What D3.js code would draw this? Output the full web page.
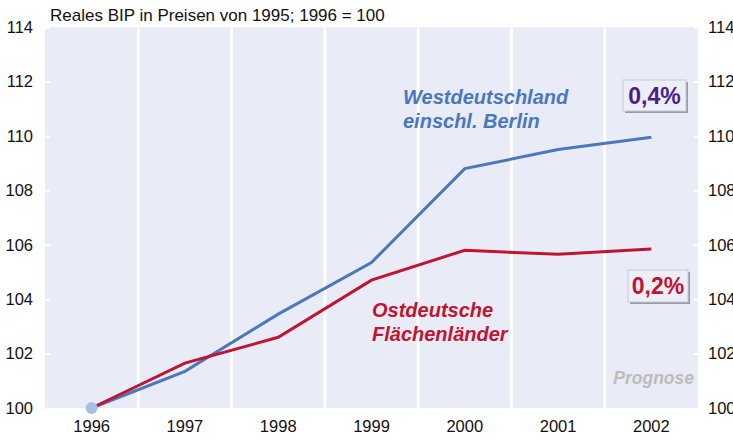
<!DOCTYPE html>
<html><head><meta charset="utf-8">
<script src="https://cdn.jsdelivr.net/npm/d3@7"></script>
<style>body{margin:0;background:#fff}svg{display:block}text{font-family:Arial,"Liberation Sans",sans-serif}</style>
</head><body>
<svg id="c" width="733" height="443"></svg>
<script>
const years = ["1996","1997","1998","1999","2000","2001","2002"];
const west = [100, 101.35, 103.45, 105.35, 108.8, 109.5, 109.95];
const east = [100, 101.65, 102.6, 104.7, 105.8, 105.65, 105.85];
const yTicks = [100, 102, 104, 106, 108, 110, 112, 114];
const title = "Reales BIP in Preisen von 1995; 1996 = 100";
const westLabel = ["Westdeutschland", "einschl. Berlin"];
const eastLabel = ["Ostdeutsche", "Flächenländer"];
const westRate = "0,4%";
const eastRate = "0,2%";
const progLabel = "Prognose";

const svg = d3.select("#c");
const L = 45, R = 698, T = 27.2, B = 408;
const x = d3.scaleBand().domain(years).range([L, R]).padding(0);
const y = d3.scaleLinear().domain([100, 114]).range([B, T]);
const cx = d => x(d) + x.bandwidth() / 2;

svg.append("rect").attr("x", L).attr("y", T).attr("width", R - L).attr("height", B - T).attr("fill", "#e9ebf6");

svg.selectAll(".sep").data(years.slice(1)).join("line")
  .attr("x1", d => x(d)).attr("x2", d => x(d)).attr("y1", T).attr("y2", B)
  .attr("stroke", "#fff").attr("stroke-width", 3);

const fs = 16.5;
const la = svg.append("g").attr("transform", `translate(${L},0)`)
  .call(d3.axisLeft(y).tickValues(yTicks).tickSize(-5).tickPadding(12));
la.select(".domain").remove();
la.selectAll(".tick line").attr("stroke", "#fff").attr("stroke-width", 2);
la.selectAll(".tick text").attr("font-size", fs).attr("fill", "#111");

const ra = svg.append("g").attr("transform", `translate(${R},0)`)
  .call(d3.axisRight(y).tickValues(yTicks).tickSize(-4).tickPadding(10));
ra.select(".domain").remove();
ra.selectAll(".tick line").attr("stroke", "#fff").attr("stroke-width", 2);
ra.selectAll(".tick text").attr("font-size", fs).attr("fill", "#111");

const xa = svg.append("g").attr("transform", `translate(0,${B})`)
  .call(d3.axisBottom(x).tickSize(0).tickPadding(12));
xa.select(".domain").remove();
xa.selectAll(".tick text").attr("font-size", fs).attr("fill", "#111");

svg.append("text").attr("x", 50).attr("y", 21).attr("font-size", 17).attr("fill", "#111").text(title);

const line = d3.line().x((d, i) => cx(years[i])).y(d => y(d));
svg.append("path").datum(west).attr("d", line).attr("fill", "none").attr("stroke", "#4a78bf").attr("stroke-width", 3);
svg.append("path").datum(east).attr("d", line).attr("fill", "none").attr("stroke", "#c01430").attr("stroke-width", 3);

svg.append("circle").attr("cx", cx(years[0])).attr("cy", y(west[0])).attr("r", 6).attr("fill", "#aac0e2");

function label(lines, xx, yy, col) {
  const t = svg.append("text").attr("x", xx).attr("y", yy).attr("font-size", 20).attr("font-weight", "bold")
    .attr("font-style", "italic").attr("fill", col);
  lines.forEach((s, i) => t.append("tspan").attr("x", xx).attr("dy", i ? 24 : 0).text(s));
}
label(westLabel, 403, 104, "#4a78bf");
label(eastLabel, 372, 317, "#c01430");

function box(txt, bx, by, bw, bh, col) {
  svg.append("rect").attr("x", bx + 2).attr("y", by + 2).attr("width", bw).attr("height", bh).attr("fill", "#9a9aa6");
  svg.append("rect").attr("x", bx).attr("y", by).attr("width", bw).attr("height", bh).attr("fill", "#eceef8").attr("stroke", "#c8c8d4").attr("stroke-width", 1);
  svg.append("text").attr("x", bx + bw / 2).attr("y", by + bh / 2 + 8).attr("text-anchor", "middle")
    .attr("font-size", 23).attr("font-weight", "bold").attr("fill", col).text(txt);
}
box(westRate, 623, 80, 63, 31, "#4a1d8c");
box(eastRate, 628, 270, 60, 32, "#c01430");

svg.append("text").attr("x", 694).attr("y", 384).attr("text-anchor", "end").attr("font-size", 17.5)
  .attr("font-weight", "bold").attr("font-style", "italic").attr("fill", "#bdbcbc").text(progLabel);
</script>
</body></html>
